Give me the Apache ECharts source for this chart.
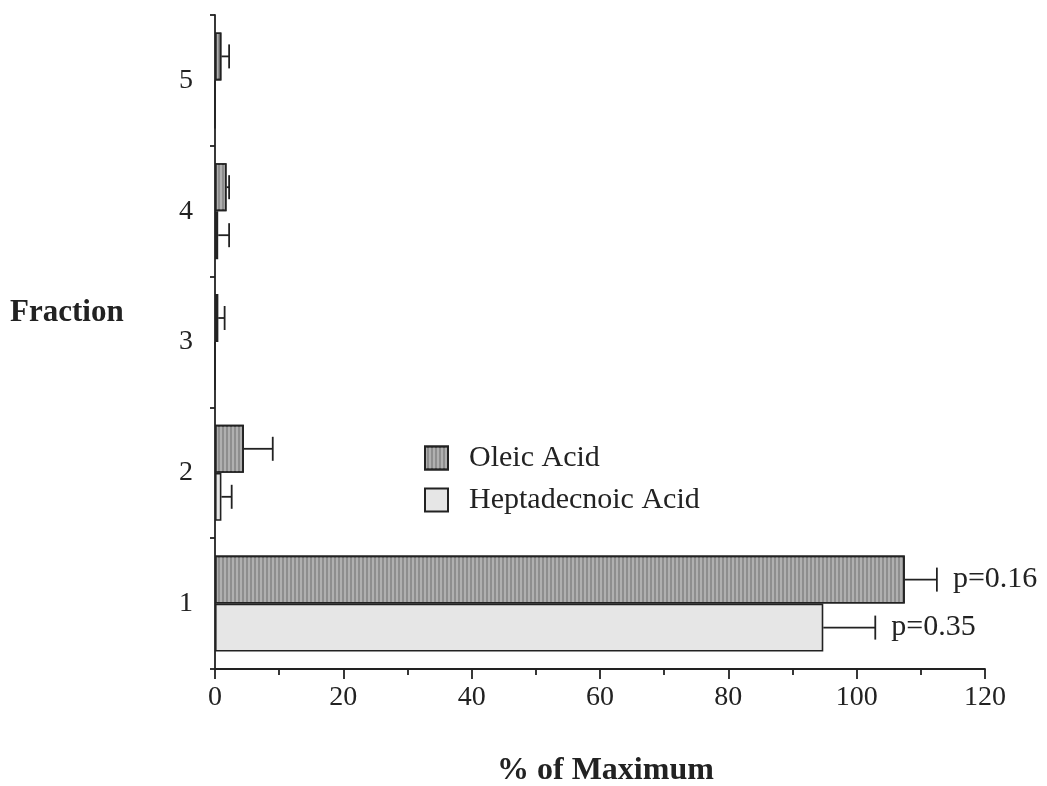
<!DOCTYPE html>
<html><head><meta charset="utf-8">
<script src="https://cdn.jsdelivr.net/npm/echarts@6/dist/echarts.min.js"></script>
<style>html,body{margin:0;padding:0;background:#fff}#c{width:1047px;height:786px}</style>
</head><body><div id="c"></div>
<script>
const categories = ['1','2','3','4','5'];
const oleic = [107.5, 4.5, 0.5, 1.8, 1.0];
const oleicErr = [5.0, 4.5, 1.0, 0.4, 1.2];
const hepta = [94.8, 1.0, 0, 0.5, 0];
const heptaErr = [8.1, 1.6, 0, 1.7, 0];
const oleicP = ['p=0.16', '', '', '', ''];
const heptaP = ['p=0.35', '', '', '', ''];
const xTicks = [0, 20, 40, 60, 80, 100, 120];

const font = 'Liberation Serif';
const chart = echarts.init(document.getElementById('c'));

function errData(vals, errs, ps, s) {
  return vals.map((v, i) => [i, v, errs[i], s, ps[i]]);
}
function renderErr(params, api) {
  const cat = api.value(0), v = api.value(1), e = api.value(2), s = api.value(3);
  const label = api.value(4);
  if (!e) return null;
  const p0 = api.coord([v, cat]);
  const p1 = api.coord([v + e, cat]);
  const y = p0[1] + (s === 0 ? -24 : 24);
  const st = { stroke: '#222', lineWidth: 1.8 };
  const children = [
    { type: 'line', shape: { x1: p0[0], y1: y, x2: p1[0], y2: y }, style: st },
    { type: 'line', shape: { x1: p1[0], y1: y - 12, x2: p1[0], y2: y + 12 }, style: st }
  ];
  if (label) {
    children.push({ type: 'text', style: { text: label, x: p1[0] + 16, y: y, textVerticalAlign: 'middle', font: '30px "' + font + '"', fill: '#222' } });
  }
  return { type: 'group', children };
}

chart.setOption({
  animation: false,
  backgroundColor: '#fff',
  textStyle: { fontFamily: font },
  grid: { left: 215, right: 62, top: 15, bottom: 117 },
  legend: {
    data: ['Oleic Acid', 'Heptadecnoic Acid'],
    orient: 'vertical', left: 419, top: 438, itemWidth: 23, itemHeight: 23, itemGap: 12,
    icon: 'rect',
    textStyle: { fontFamily: font, fontSize: 30, color: '#222', padding: [0, 0, 0, 16] }
  },
  xAxis: {
    type: 'value', min: 0, max: 120, interval: 20,
    axisLine: { show: true, lineStyle: { color: '#222', width: 1.8 } },
    axisTick: { show: true, length: 10, lineStyle: { color: '#222', width: 1.8 } },
    minorTick: { show: true, splitNumber: 2, length: 6, lineStyle: { color: '#222', width: 1.8 } },
    splitLine: { show: false },
    axisLabel: { fontFamily: font, fontSize: 28, color: '#222', margin: 15,
      formatter: v => xTicks.includes(v) ? String(v) : '' }
  },
  yAxis: {
    type: 'category', data: categories,
    axisLine: { show: true, lineStyle: { color: '#222', width: 1.8 } },
    axisTick: { show: true, length: 5, lineStyle: { color: '#222', width: 1.8 } },
    axisLabel: { fontFamily: font, fontSize: 28, color: '#222', margin: 22 }
  },
  series: [
    { name: 'Oleic Acid', type: 'bar', data: oleic, barWidth: 48, barGap: '0%',
      itemStyle: { color: '#8e8e8e', borderColor: '#222', borderWidth: 1.6,
        decal: { symbol: 'rect', symbolSize: 1, dashArrayX: [2, 2], dashArrayY: [6, 0], color: 'rgba(255,255,255,0.3)' } } },
    { name: 'Heptadecnoic Acid', type: 'bar', data: hepta, barWidth: 48, barGap: '0%',
      itemStyle: { color: '#e6e6e6', borderColor: '#222', borderWidth: 1.6 } },
    { type: 'custom', renderItem: renderErr, data: errData(oleic, oleicErr, oleicP, 0), encode: { x: 1, y: 0 }, z: 5 },
    { type: 'custom', renderItem: renderErr, data: errData(hepta, heptaErr, heptaP, 1), encode: { x: 1, y: 0 }, z: 5 }
  ],
  graphic: [
    { type: 'text', left: 10, top: 297, style: { text: 'Fraction', font: 'bold 31px "' + font + '"', fill: '#222' } },
    { type: 'text', left: 497, top: 755, style: { text: '% of Maximum', font: 'bold 32px "' + font + '"', fill: '#222' } }
  ]
});
</script></body></html>
